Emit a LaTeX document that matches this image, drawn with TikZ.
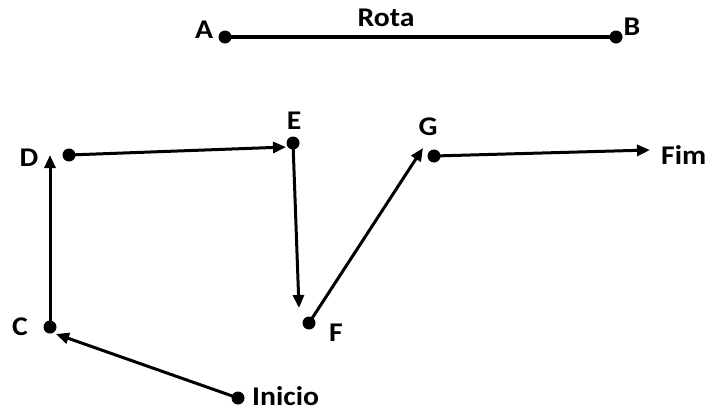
\documentclass[tikz,border=0pt]{standalone}
\usepackage{fontspec}
\setmainfont{Carlito}
\usetikzlibrary{arrows.meta}
\begin{document}
\begin{tikzpicture}[x=1pt,y=-1pt,
  dot/.style={circle,fill=black,inner sep=0pt,minimum size=13pt},
  lbl/.style={font=\fontsize{27}{30}\selectfont\bfseries,inner sep=0pt},
  conn/.style={line width=3.4pt},
  arr/.style={line width=3pt,-{Triangle[length=13pt,width=11pt]}}]
\useasboundingbox (0,0) rectangle (708,410);
% dots
\node[dot] (A) at (225,37) {};
\node[dot] (B) at (616,37) {};
\node[dot] (D) at (69,155) {};
\node[dot] (E) at (293,143) {};
\node[dot] (F) at (309,323) {};
\node[dot] (G) at (434,156) {};
\node[dot] (C) at (50,327) {};
\node[dot] (I) at (238,398) {};
% labels
\node[lbl] (lA) at (204,30) {\scalebox{1.1}[1]{A}};
\node[lbl] (lB) at (632,27) {\scalebox{1.1}[1]{B}};
\node[lbl] (lRota) at (386,18) {\scalebox{1.1}[1]{Rota}};
\node[lbl] (lD) at (29,158) {\scalebox{1.1}[1]{D}};
\node[lbl] (lE) at (294,121) {\scalebox{1.1}[1]{E}};
\node[lbl] (lG) at (428,127) {\scalebox{1.1}[1]{G}};
\node[lbl,anchor=west] (lFim) at (661,155) {\scalebox{1.1}[1]{Fim}};
\node[lbl] (lC) at (20,327) {\scalebox{1.1}[1]{C}};
\node[lbl] (lF) at (336,333) {\scalebox{1.1}[1]{F}};
\node[lbl,anchor=west] (lI) at (252,396) {\scalebox{1.1}[1]{Inicio}};
% arrow tips
\coordinate (tE) at (286,147);
\coordinate (tF) at (299,308);
\coordinate (tG) at (423,148);
\coordinate (tFim) at (650,150);
\coordinate (tC) at (56,334);
\coordinate (tD) at (50,155);
% connectors
\draw[conn] (A.center) -- (B.center);
\draw[arr] (I.center) -- (tC);
\draw[arr] (C.center) -- (tD);
\draw[arr] (D.center) -- (tE);
\draw[arr] (E.center) -- (tF);
\draw[arr] (F.center) -- (tG);
\draw[arr] (G.center) -- (tFim);
\end{tikzpicture}
\end{document}
